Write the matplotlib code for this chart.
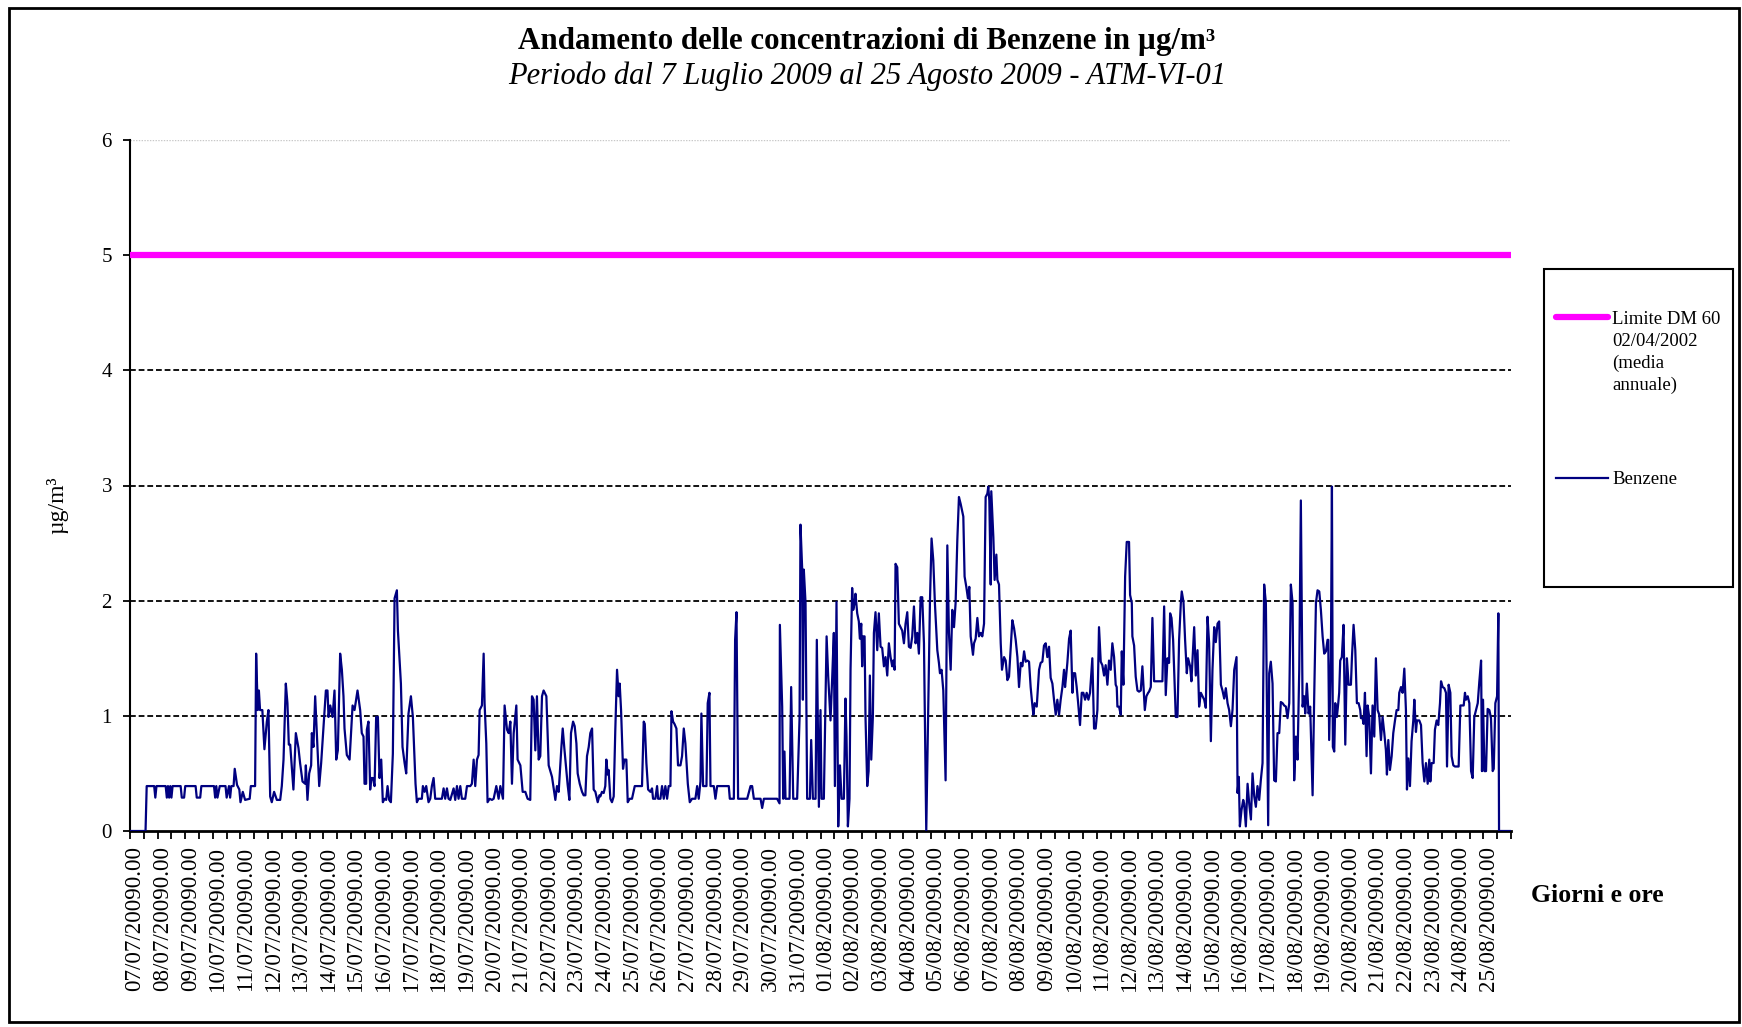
import matplotlib
matplotlib.use("Agg")
import matplotlib.pyplot as plt
from matplotlib.lines import Line2D
from matplotlib.patches import Rectangle
from matplotlib.transforms import ScaledTranslation

# ---------------- data ----------------
# hours elapsed since 07/07/2009 00:00 and hourly benzene concentration (ug/m3)
hours = [
    0, 13.5, 14.5, 21, 22, 23, 31, 32, 33, 34, 35, 36, 37, 44, 45, 47, 48, 57, 58, 61, 62,
    73, 74, 75, 76, 78, 83, 84, 86, 87, 88, 90, 91, 93, 95, 96, 98, 100, 104, 105, 108.7,
    109.6, 111, 112, 113, 115, 116.8, 118.9, 120.3, 121.8, 123.2, 125.2, 127.6, 130.5, 131.9,
    133.4, 135.4, 136.8, 138, 139.2, 142, 144.1, 146.4, 147.8, 149.9, 152.2, 152.8, 154.2,
    155.7, 157.4, 158, 159.4, 160.9, 162.9, 164.4, 166.1, 167.6, 168.7, 170.2, 171.6, 172.5,
    174, 176, 177.7, 179.2, 180.6, 182.6, 184.1, 185.5, 186.4, 188.4, 190.8, 193.4, 195.1,
    197.7, 200,
    201.4, 202.9, 203.8, 205.2, 205.8, 207.2, 208.7, 209.6, 211, 212.5, 213.9, 215.4, 216.8,
    218.3, 219.7, 221.2, 222.6, 223.8, 225.2, 226.7, 228.4, 229.9, 231.9, 232.8, 235.4, 236.8,
    238.6, 240, 242, 244.1, 245.8, 247.3, 248.1, 249.3, 250.7, 253.6, 254.5, 256, 257.4, 259.4,
    260.9, 262.3, 263.8, 265.2, 268.1, 271, 272.5, 273.9, 275.4, 276.8, 278.3, 281.2, 282.6,
    284.1, 285.5, 287, 288.4, 291.3, 292.8, 295.7, 297.1, 298.6, 300, 301.5, 302.9, 303.8,
    305.8, 307.3, 308.1, 309.6, 310.7, 312.5, 314.5, 316, 318.3, 320.3, 321.8, 324.1, 325.5,
    327.6, 329, 330.5, 331.9, 333.4, 335.7, 336.8, 339.2, 341.2, 343.5, 345.5, 347.8, 349.3,
    350.7, 352.2, 353.6, 355.1, 356.5, 358, 359.4, 361.8, 363.8, 366.7, 369.6, 371, 372.5,
    374.8, 376, 377.4, 380.3, 381.8, 383.2, 385, 386.4, 387.9, 389, 390.8, 392.8, 394.2,
    395.7, 397.1, 398.6, 400, 401.5, 402.9, 404.4, 406.4, 407.9,
    408.7, 410.1, 411.6, 413, 413.9, 415.1, 415.9, 417.4, 418.8, 420.3, 421.7, 423.2, 424.6,
    425.5, 426.7, 428.4, 429.6, 431.3, 432.5, 434.2, 436.2, 438.6, 444.9, 446.4, 447.3, 448.7,
    450.2, 452.2, 453.6, 454.5, 456.5, 458, 458.9, 460.9, 462.3, 463.8, 465.2, 466.7, 468.1,
    469.6, 470.5, 471.9, 473.1, 474.8, 476.2, 478.3, 479.7, 481.2, 482.6, 484.7, 486.4, 488.4,
    491.3, 492.8, 494.2, 495.7, 496.5, 498, 499.4, 500.9, 502, 503.5, 504.4, 507.3, 508.7,
    510.2, 520.3, 521.2, 524.7, 525.8, 527, 528.4, 536.3, 539.2, 540.6, 542.1, 547.9, 549.3,
    550.8, 562.3, 564.4, 564.7, 566.7, 567.6, 568.7, 569.6, 573.1, 574.5, 576.3, 579.7, 581.8,
    582.6, 584.1, 584.7, 585.5, 587, 588.4, 590.8, 591.9, 593.4, 595.7, 596.8, 598.6, 600,
    600.9, 602.9, 605.3, 606.7, 608.7, 610.2, 611.6, 612.5, 613.9, 615.4, 616.9, 618.3,
    620.3, 621.7, 622.6, 623.8, 625.2, 626.1, 627.5, 628.4, 629.6, 630.4, 631.9, 633.3, 634.2,
    635.4, 636.2, 637.1, 638.3, 639.1, 640.6, 641.8, 642.9, 644.1, 645.5, 646.4, 647.8, 649.3,
    650.7, 652.2, 653.6, 655.1, 656.5, 658, 659.4, 660.9, 662.3, 663.2, 664.4, 665.2, 666.7,
    668.1, 669.6, 671, 672.5, 673.9, 675.4, 676.8, 678.3, 679.7, 681.2, 682.6, 684.1, 685.5,
    687, 688.4, 689.9, 691.9, 693.4, 695.1, 696.5, 698, 699.4, 701.5, 702.9, 703.8, 705.2,
    706.7, 708.7, 710.2, 711.6, 713.1, 714.5, 716, 717.4, 718.9, 720.3, 721.8, 724.1, 725.2,
    726.7, 728.1, 729.3, 730.5, 732.5, 733.4, 734.8, 736.3, 737.7, 739.2, 740.6, 742.1, 743.5,
    745, 745.8, 746.7, 747.9, 748.4, 750.2, 751.3, 752.8, 753.7, 755.1, 756.6, 757.7, 759.5,
    760.9, 762.4, 763.8, 765.3, 766.7, 768.2, 769.6, 771.1, 772.5, 774, 775.4, 776.9, 778.3,
    779.8, 781.2, 782.6, 784.1, 785, 786.1, 787.9, 789.9, 791.3, 792.8, 794.2, 795.7, 797.1,
    798.6, 800, 801.5, 802.9, 804.4, 805.8, 807.3, 808.7, 810.2, 811.6, 812.5, 813.4, 814.5,
    816, 817.4, 818.9, 819.7, 821.2, 822.6, 823.8, 825.5, 827, 828.4, 829.9, 831.3, 832.8,
    834.2,
    836.2, 837.7, 839.1, 840.6, 842, 843.5, 844.9, 846.4, 847.8, 849.3, 850.7, 852.2, 853.6,
    855.1, 856.5, 857.4, 858, 859.4, 860.9, 861.8, 863.2, 864.7, 866.1, 868.1, 869, 870.5,
    871, 872.5, 873.9, 875.4, 876.8, 878.3, 879.7, 881.8, 883.2, 884.7, 885.5, 887, 888.4,
    889.9, 897.1, 898.6, 900, 901.5, 902.9, 903.8, 905, 906.4, 908.7, 910.2, 911.6, 913.1,
    913.9, 915.4, 916.8, 918.3, 919.4, 921.2, 922.3, 923.2, 924.7, 926.1, 927.6, 929, 930.5,
    931.9, 933.4, 934.8, 936.3, 937.7, 939.2, 940.6, 942.1, 943.5, 945, 946.4, 947.9, 949.3,
    950.8, 952.2, 953.7, 955.1, 956.6, 958, 959.5, 961.5, 962.4, 963.5, 964.4, 965.8, 967.3,
    968.1, 969.6, 971.1, 972.5, 974, 975.4, 976.9, 978.3, 979.7, 981.2, 982.6, 984.1, 985.5,
    987, 987.9, 989, 989.9, 991.3, 992.8, 994.2, 995.7, 997.1, 998.6, 1000, 1001.5, 1002.9,
    1004.4, 1005.8, 1007.3, 1008.7, 1010.2, 1011.6, 1013.1, 1014.5, 1016, 1017.4, 1018.9,
    1020.3, 1021.2, 1022.6, 1024.1, 1025.5, 1027.6, 1029, 1030.5, 1031.9, 1033.4, 1034.8,
    1036.3, 1037.7, 1039.2, 1040.6,
    1041.2, 1042, 1043.5, 1044.4, 1045.2, 1046.4, 1047.3, 1048.7, 1049.9, 1050.7, 1051.6,
    1053, 1054.5, 1056, 1057.4, 1058.9, 1060.9, 1061.8, 1063.2, 1064.7, 1066.1, 1067.6, 1069,
    1069.6, 1071, 1071.9, 1073.1, 1074.5, 1075.4, 1076.8, 1078.3, 1079.7, 1081.2, 1082.6,
    1084.1, 1085.5, 1087, 1088.4, 1089.9, 1091.3, 1092.2, 1093.4, 1094.8, 1096.3, 1097.7,
    1099.2, 1100.6, 1102.1, 1102.9, 1104.4, 1105.8, 1107.3, 1108.7, 1109.6, 1110.8, 1112.2,
    1113.6, 1115.1, 1116, 1117.4, 1118.3, 1120.3, 1121.8, 1123.2, 1124.7, 1126.1, 1127.6,
    1129, 1129.9, 1131, 1132.8, 1133.9, 1135.4, 1136.8, 1138.3, 1139.2, 1140.6, 1142.1,
    1143.5, 1144.4, 1145.8, 1147.3, 1148.4, 1149.9, 1151.3, 1154.5, 1156, 1158.9, 1160,
    1160.9, 1162.4, 1163.8, 1165.3, 1166.7, 1168.1, 1169.6, 1171.1, 1172.5, 1174, 1174.8,
    1175.7, 1176.9, 1178.3, 1179.7, 1181.2, 1182.6, 1184.1, 1185, 1186.4, 1187.9, 1189,
    1189.6, 1200,
]

benzene = [
    0, 0, 0.39, 0.39, 0.29, 0.39, 0.39, 0.29, 0.39, 0.29, 0.39, 0.29, 0.39, 0.39, 0.29, 0.29,
    0.39, 0.39, 0.29, 0.29, 0.39,
    0.39, 0.29, 0.39, 0.29, 0.39, 0.39, 0.29, 0.39, 0.29, 0.39, 0.39, 0.54, 0.40, 0.36, 0.25,
    0.34, 0.27, 0.28, 0.39, 0.39,
    1.54, 1.05, 1.22, 1.05, 1.05, 0.71, 0.95, 1.05, 0.30, 0.25, 0.34, 0.27, 0.27, 0.39,
    0.62, 1.28, 1.11, 0.75, 0.75, 0.36, 0.85, 0.72, 0.59, 0.43, 0.41, 0.57, 0.27,
    0.50, 0.57, 0.85, 0.73, 1.17, 0.72, 0.39, 0.59, 0.82, 0.99, 1.22, 1.22, 0.99,
    1.09, 0.99, 1.22, 0.62, 0.70, 1.54, 1.40, 1.17, 0.89, 0.66, 0.62, 1.09, 1.05,
    1.22, 1.05,
    0.85, 0.82, 0.41, 0.41, 0.88, 0.95, 0.36, 0.46, 0.46, 0.39, 0.99, 0.99, 0.46,
    0.62, 0.25, 0.28, 0.27, 0.39, 0.27, 0.25, 0.67, 2.02, 2.09, 1.74, 1.28, 0.73,
    0.59, 0.50, 1.02, 1.17, 0.99, 0.62, 0.41, 0.25, 0.28, 0.28, 0.39, 0.34, 0.39, 0.25,
    0.28, 0.39, 0.46, 0.28, 0.28, 0.28, 0.37, 0.28, 0.37, 0.28, 0.27, 0.37, 0.27,
    0.39, 0.28, 0.39, 0.28, 0.28, 0.39, 0.39, 0.41, 0.62, 0.39, 0.62, 0.66, 1.05,
    1.09, 1.54, 1.11, 0.76, 0.25, 0.28, 0.27, 0.28, 0.39, 0.28, 0.39, 0.28, 1.09,
    0.88, 0.85, 0.95, 0.41, 0.85, 1.09, 0.62, 0.57, 0.34, 0.34, 0.28, 0.27, 1.17,
    1.14, 0.70, 1.17, 0.62, 0.65, 1.17, 1.22, 1.17, 0.57, 0.47, 0.27, 0.39, 0.34,
    0.72, 0.89, 0.72, 0.40, 0.27, 0.85, 0.95, 0.91, 0.76, 0.50, 0.41, 0.34, 0.31,
    0.31, 0.65, 0.73, 0.85, 0.89, 0.36, 0.34, 0.25, 0.31,
    0.30, 0.34, 0.33, 0.39, 0.62, 0.49, 0.53, 0.28, 0.25, 0.30, 0.88, 1.40, 1.17,
    1.28, 1.05, 0.54, 0.62, 0.62, 0.25, 0.28, 0.28, 0.39, 0.39, 0.95, 0.93, 0.59,
    0.36, 0.34, 0.37, 0.28, 0.28, 0.39, 0.28, 0.28, 0.39, 0.28, 0.39, 0.28, 0.39,
    0.39, 1.04, 0.95, 0.93, 0.89, 0.57, 0.57, 0.65, 0.89, 0.76, 0.41, 0.25, 0.28,
    0.28, 0.39, 0.28, 0.43, 1.02, 0.39, 0.39, 0.39, 1.11, 1.20, 0.39, 0.39, 0.28,
    0.39, 0.39, 0.28, 0.28, 1.66, 1.90, 0.28, 0.28, 0.39, 0.39, 0.28, 0.28, 0.20,
    0.28, 0.28, 0.24, 1.79, 1.08, 0.28, 0.69, 0.28, 0.28, 1.25, 0.28, 0.28, 0.98,
    2.66, 2.27, 1.14, 2.27, 1.98, 0.28, 0.28, 0.79, 0.28, 0.28, 1.66, 0.21, 1.05,
    0.28, 0.28, 1.69, 1.34, 0.96, 1.34, 1.72, 0.39, 1.99, 0.04, 0.57, 0.28,
    0.28, 1.15, 0.82, 0.04, 0.28, 1.40, 2.11, 1.92, 1.98, 2.06, 1.89, 1.82, 1.67,
    1.80, 1.43, 1.69, 1.69, 0.99, 0.39, 0.52, 1.35, 0.62, 0.99, 1.72, 1.90, 1.57,
    1.89, 1.60, 1.59, 1.43, 1.51, 1.35, 1.63, 1.51, 1.43, 1.48, 1.40, 2.32, 2.29,
    1.80, 1.77, 1.74, 1.63, 1.80, 1.90, 1.60, 1.59, 1.69, 1.95, 1.63, 1.72, 1.54,
    2.03, 2.03, 1.63, 0.0, 0.91, 1.99, 2.54, 2.35, 1.98, 1.57, 1.46, 1.37, 1.40,
    1.22, 0.44, 2.48, 1.72, 1.40, 1.92, 1.77, 1.98, 2.53, 2.90, 2.84, 2.73, 2.21,
    2.12, 2.02, 2.12, 1.69, 1.53, 1.63, 1.67, 1.85, 1.69, 1.72, 1.69, 1.80, 2.90,
    2.93, 2.99, 2.87, 2.14, 2.95, 2.55, 2.18, 2.40, 2.18, 2.14, 1.63, 1.40, 1.51,
    1.48, 1.31, 1.34, 1.60, 1.83, 1.76, 1.66, 1.51, 1.25, 1.46, 1.43, 1.56, 1.47,
    1.48, 1.47, 1.25, 1.09, 1.01, 1.11, 1.08, 1.40, 1.46, 1.47, 1.61, 1.63, 1.51,
    1.60, 1.33, 1.28, 1.14, 1.01, 1.14, 1.01, 1.14, 1.25, 1.40, 1.25, 1.34, 1.46,
    1.67, 1.74, 1.20, 1.37, 1.37, 1.25, 1.12, 0.92, 1.20, 1.20, 1.14, 1.20, 1.14,
    1.20,
    1.50, 0.89, 0.89, 1.05, 1.77, 1.47, 1.44, 1.35, 1.44, 1.27, 1.48, 1.40, 1.63,
    1.51, 1.27, 1.25, 1.08, 1.08, 1.01, 1.56, 1.27, 2.21, 2.51, 2.51, 2.05, 1.98,
    1.69, 1.61, 1.34, 1.22, 1.21, 1.22, 1.43, 1.05, 1.17, 1.20, 1.21, 1.25, 1.85,
    1.30, 1.30, 1.95, 1.18, 1.50, 1.46, 1.89, 1.85, 1.66, 0.99, 0.99, 1.66, 1.98,
    2.08, 1.99, 1.66, 1.37, 1.50, 1.43, 1.30, 1.48, 1.77, 1.35, 1.57, 1.08, 1.20,
    1.17, 1.14, 1.07, 1.86, 1.63, 0.78, 1.40, 1.77, 1.64, 1.80, 1.82, 1.27, 1.22,
    1.15, 1.24, 1.11, 1.05, 0.91, 1.05, 1.40, 1.51, 0.33, 0.47, 0.04, 0.18, 0.27,
    0.24, 0.04, 0.41, 0.24, 0.10, 0.50, 0.30, 0.21, 0.39, 0.27, 0.44, 0.59, 2.14,
    1.98, 1.11, 0.05, 1.37, 1.47, 1.28, 0.44, 0.43, 0.85, 0.85, 1.12, 1.11, 1.09,
    1.08, 0.98, 1.11, 2.14, 1.98, 0.44, 0.82, 0.62, 1.40, 2.87, 1.08,
    1.17, 1.02, 1.28, 1.02, 1.08, 0.31, 1.17, 1.98, 2.09, 2.08, 1.92,
    1.69, 1.54, 1.56, 1.66,
    1.66, 0.79, 1.51, 2.99, 0.73, 0.69, 1.11, 0.99, 1.11, 1.20, 1.48,
    1.51, 1.79, 0.75, 1.50, 1.27, 1.27, 1.51, 1.79, 1.57, 1.11, 1.11, 1.05,
    0.98, 0.98, 0.93, 1.20, 0.65, 1.09, 0.99, 0.50, 1.09, 0.82, 1.50,
    1.05, 1.01, 0.79, 0.99, 0.85, 0.70, 0.49, 0.79, 0.53, 0.65, 0.85,
    0.96, 1.05, 1.05, 1.20, 1.25, 1.20, 1.41, 1.05, 0.36, 0.63, 0.39,
    0.78, 0.96, 1.14, 0.86, 0.96, 0.96, 0.92, 0.59, 0.43, 0.59, 0.41,
    0.62, 0.43, 0.59, 0.59, 0.88, 0.96, 0.92, 1.11, 1.30, 1.25, 1.24,
    1.20, 0.56, 1.27, 1.20, 0.65, 0.57, 0.56, 0.56, 1.09, 1.09, 1.20,
    1.14, 1.17, 1.11, 0.52, 0.46, 0.99, 1.05, 1.11, 1.30, 1.48, 0.52,
    1.14, 0.52, 0.52, 1.06, 1.05, 0.98, 0.52, 0.54, 1.11, 1.17, 1.89,
    0, 0,
]

limit_value = 5.0  # DM 60 02/04/2002 annual mean limit
day_labels = ([f"{d:02d}/07/20090.00" for d in range(7, 32)] +
              [f"{d:02d}/08/20090.00" for d in range(1, 26)])
y_ticks = [0, 1, 2, 3, 4, 5, 6]

title = "Andamento delle concentrazioni di Benzene in \u00b5g/m\u00b3"
subtitle = "Periodo dal 7 Luglio 2009 al 25 Agosto 2009 - ATM-VI-01"
limit_label = "Limite DM 60\n02/04/2002\n(media\nannuale)"
series_label = "Benzene"

# ---------------- drawing ----------------
plt.rcParams['font.family'] = ['Liberation Serif', 'DejaVu Serif']
W, H = 1742, 1027
fig = plt.figure(figsize=(W / 100, H / 100), dpi=100)
fig.patch.set_facecolor('white')

ax = fig.add_axes([130 / W, 1 - 831 / H, (1511 - 130) / W, (831 - 140) / H])
n_hours = 24 * len(day_labels)
ax.set_xlim(0, n_hours)
ax.set_ylim(0, 6)

# gridlines
for v in y_ticks[1:5]:
    ax.axhline(v, color='black', lw=1.3, dashes=(3.2, 1.6), zorder=1)
ax.axhline(6, color='#c8c8c8', lw=1.0, ls=(0, (1, 1)), zorder=1)

ax.axhline(limit_value, color='#FF00FF', lw=4.5, zorder=3, solid_capstyle='butt')
ax.plot(hours, benzene, color='#000080', lw=1.6, zorder=4)

for s in ['top', 'right']:
    ax.spines[s].set_visible(False)
ax.spines['left'].set_linewidth(1.5)
ax.spines['bottom'].set_linewidth(2.0)
ax.spines['bottom'].set_zorder(2)

ax.set_yticks(y_ticks)
ax.set_yticklabels([str(v) for v in y_ticks], fontsize=15)
ax.tick_params(axis='y', direction='out', length=5, width=1.3, pad=8)

ax.set_xticks(range(0, n_hours + 1, 12))
ax.set_xticklabels([day_labels[i // 24] if (i % 24 == 0 and i // 24 < len(day_labels)) else ''
                    for i in range(0, n_hours + 1, 12)],
                   rotation=90, fontsize=16.6, va='top', ha='center')
ax.tick_params(axis='x', direction='out', length=6, width=1.3, pad=5)
shift = ScaledTranslation(5 / 100, 0, fig.dpi_scale_trans)
for lab in ax.get_xticklabels():
    lab.set_transform(lab.get_transform() + shift)

fig.text(57 / W, 1 - 505 / H, "\u00b5g/m\u00b3", rotation=90, fontsize=17,
         ha='center', va='center')
fig.text(1597 / W, 1 - 895 / H, "Giorni e ore", fontsize=18.5, fontweight='bold',
         ha='center', va='center')

fig.text(867 / W, 1 - 41 / H, title, fontsize=22.3, fontweight='bold',
         ha='center', va='center')
fig.text(867 / W, 1 - 76 / H, subtitle, fontsize=22, style='italic',
         ha='center', va='center')

# legend box
fig.patches.append(Rectangle((1544 / W, 1 - 587 / H), (1733 - 1544) / W, (587 - 269) / H,
                             transform=fig.transFigure, fill=False, edgecolor='black', lw=1.5))
fig.lines.append(Line2D([1556 / W, 1608 / W], [1 - 317 / H] * 2, transform=fig.transFigure,
                        color='#FF00FF', lw=4.5, solid_capstyle='round'))
fig.text(1612 / W, 1 - 311 / H, limit_label, fontsize=13.5, ha='left', va='top',
         linespacing=1.36)
fig.lines.append(Line2D([1556 / W, 1608 / W], [1 - 478 / H] * 2, transform=fig.transFigure,
                        color='#000080', lw=1.6))
fig.text(1612 / W, 1 - 479 / H, series_label, fontsize=13.5, ha='left', va='center')

# outer frame
fig.patches.append(Rectangle((9 / W, 1 - 1022 / H), (1739 - 9) / W, (1022 - 8) / H,
                             transform=fig.transFigure, fill=False, edgecolor='black', lw=2))

fig.savefig('out.png', dpi=100)
